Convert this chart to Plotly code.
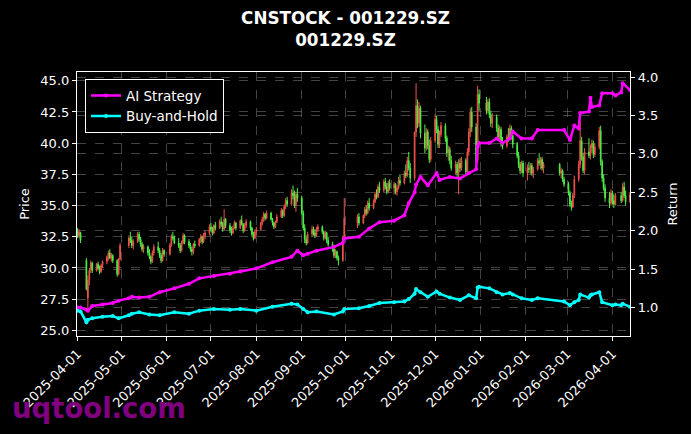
import pandas as pd
import plotly.graph_objects as go

# ---------------- data ----------------
holidays = ["2025-04-04", "2025-05-01", "2025-05-02", "2025-05-05", "2025-06-02",
            "2025-10-01", "2025-10-02", "2025-10-03", "2025-10-06", "2025-10-07", "2025-10-08",
            "2026-01-01", "2026-01-02", "2026-02-16", "2026-02-17", "2026-02-18",
            "2026-02-19", "2026-02-20", "2026-02-23", "2026-04-06"]

open_px = [
    33.0, 32.6, 32.8, 30.6, 27.6, 29.0, 29.9, 30.4, 29.8, 30.3, 30.0, 29.7, 30.2, 30.5, 30.9, 31.2, 30.8, 31.0, 30.6, 29.5, 30.7,
    31.8, 32.4, 32.2, 31.8, 32.1, 32.7, 32.3, 31.9, 31.5, 31.7, 31.2, 30.9, 30.5, 31.2, 31.7, 31.4, 31.0, 30.6, 31.4,
    31.1, 31.8, 32.5, 32.4, 32.0, 31.8, 31.4, 32.0, 32.6, 32.1, 31.8, 31.5, 31.3, 31.9, 31.8, 32.3, 32.5, 32.1, 32.6, 32.8,
    33.3, 33.1, 32.8, 33.4, 33.2, 33.7, 33.5, 33.1, 33.9, 33.4, 33.0, 32.8, 33.2, 33.6, 33.2, 33.8, 33.5, 33.0, 33.4, 33.7, 33.2, 32.7, 32.4,
    32.9, 33.1, 33.6, 33.9, 34.3, 34.0, 34.4, 33.9, 33.6, 33.3, 33.7, 34.1, 34.6, 34.2, 34.9, 35.4, 35.1, 36.0, 35.8, 35.0, 35.9,
    35.6, 34.4, 33.2, 32.3, 32.0, 32.7, 33.1, 32.8, 32.6, 33.1, 33.3, 32.9, 32.4, 32.8, 32.2, 31.9, 31.5, 31.0, 31.3, 30.8, 30.6, 32.4,
    33.6, 34.1, 33.6, 34.2, 34.7, 34.4, 35.2, 34.8, 35.3, 35.9, 35.7, 36.5, 36.2, 36.9, 36.5, 36.1, 36.8,
    36.4, 36.7, 36.1, 36.4, 37.0, 36.8, 37.6, 37.4, 38.6, 38.0, 37.2, 40.9, 43.0, 41.6, 42.8, 40.8, 39.6, 40.9, 39.8, 38.7,
    40.2, 41.9, 41.1, 39.9, 40.7, 41.4, 40.4, 39.2, 39.5, 38.6, 38.0, 38.3, 37.6, 38.4, 38.0, 38.6, 37.7, 39.3, 40.9, 42.5, 41.3, 38.6, 43.9,
    43.2, 42.6, 43.3, 42.3, 41.6, 42.1, 41.2, 40.5, 41.1, 40.0, 39.8, 40.5, 40.4, 41.2, 40.6, 39.9, 39.0, 38.3, 37.8, 38.4,
    37.6, 38.0, 37.9, 38.2, 37.6, 37.9, 38.6, 38.4, 38.7, 38.0, 38.3, 37.6, 37.8, 37.1,
    36.7, 36.0, 35.1, 34.9, 35.8, 37.1, 38.3, 40.2, 38.9, 37.8, 39.3, 39.0, 39.6, 40.0, 39.1, 39.7, 41.0, 38.5, 37.2, 36.4, 35.6, 35.2,
    36.0, 35.4, 35.1, 35.8, 35.4, 36.5, 35.8, 35.3,
]
high_px = [
    33.2, 33.1, 32.9, 30.8, 29.4, 30.0, 30.6, 30.5, 30.4, 30.5, 30.2, 30.3, 30.6, 31.0, 31.4, 31.5, 31.2, 31.1, 30.7, 30.8, 32.0,
    32.6, 32.9, 32.5, 32.3, 32.9, 32.9, 32.5, 32.1, 31.9, 31.8, 31.5, 31.0, 31.4, 31.9, 32.1, 31.6, 31.2, 31.6, 31.5,
    32.0, 32.7, 32.9, 32.6, 32.4, 32.0, 32.2, 32.8, 32.7, 32.3, 32.0, 31.7, 32.0, 32.2, 32.4, 32.7, 32.6, 32.8, 33.0, 33.5,
    33.6, 33.3, 33.5, 33.7, 33.9, 34.1, 33.7, 34.7, 34.0, 33.6, 33.3, 33.4, 33.8, 33.7, 33.9, 34.2, 33.6, 33.6, 33.9, 33.8, 33.3, 32.9, 33.1,
    33.3, 33.7, 34.1, 34.5, 34.4, 34.6, 34.5, 34.0, 33.7, 33.8, 34.3, 34.8, 34.7, 35.1, 35.6, 35.7, 36.3, 36.6, 36.2, 36.1, 36.4,
    35.8, 34.6, 33.5, 32.6, 32.9, 33.4, 33.3, 33.1, 33.3, 33.5, 33.4, 33.0, 33.0, 32.9, 32.5, 32.1, 31.7, 31.5, 31.4, 31.0, 32.6, 35.6,
    34.3, 34.4, 34.3, 34.9, 35.0, 35.4, 35.6, 35.5, 36.1, 36.3, 36.7, 36.9, 37.1, 37.2, 36.8, 37.0, 37.1,
    36.9, 36.8, 36.6, 37.3, 37.5, 37.8, 38.3, 38.9, 39.3, 38.4, 40.9, 44.8, 43.5, 43.3, 43.0, 41.5, 41.2, 41.1, 40.3, 40.5,
    42.3, 42.2, 41.4, 41.0, 41.7, 41.6, 40.6, 39.8, 39.7, 39.0, 38.6, 38.5, 38.7, 38.8, 38.9, 38.8, 39.6, 41.2, 42.8, 42.9, 41.6, 44.6, 44.3,
    43.7, 43.5, 43.6, 42.6, 42.4, 42.3, 41.5, 41.4, 41.3, 40.5, 40.7, 41.2, 41.5, 41.4, 40.9, 40.1, 39.3, 38.5, 38.6, 38.6,
    38.3, 38.5, 38.4, 38.4, 38.1, 38.8, 39.2, 38.9, 38.9, 38.5, 38.4, 38.0, 37.9, 37.3,
    36.9, 36.2, 35.4, 36.0, 37.4, 38.6, 41.8, 40.5, 39.2, 39.6, 40.4, 39.9, 40.3, 40.2, 40.0, 41.3, 41.4, 38.7, 37.5, 36.7, 36.1, 36.3,
    36.2, 35.9, 36.0, 36.1, 36.8, 36.9, 36.2, 36.1,
]
low_px = [
    32.4, 32.4, 32.0, 28.2, 26.5, 28.6, 29.6, 29.6, 29.7, 29.9, 29.5, 29.6, 30.0, 30.3, 30.6, 30.7, 30.5, 30.4, 29.3, 29.4, 30.6,
    31.6, 32.0, 31.6, 31.5, 32.0, 32.1, 31.7, 31.3, 31.2, 31.0, 30.7, 30.3, 30.4, 31.0, 31.2, 30.8, 30.4, 30.5, 30.9,
    31.0, 31.7, 32.2, 31.9, 31.6, 31.2, 31.3, 31.9, 31.9, 31.6, 31.3, 31.0, 31.1, 31.6, 31.7, 32.0, 31.9, 32.0, 32.3, 32.6,
    32.9, 32.6, 32.7, 33.0, 33.1, 33.3, 32.9, 33.0, 33.2, 32.8, 32.6, 32.7, 33.1, 33.0, 33.1, 33.4, 32.8, 32.9, 33.2, 33.0, 32.5, 32.2, 32.3,
    32.6, 33.0, 33.4, 33.7, 33.8, 33.9, 33.8, 33.4, 33.1, 33.2, 33.6, 34.0, 34.0, 34.1, 34.7, 34.9, 35.0, 35.5, 34.8, 34.5, 35.3,
    34.2, 33.0, 32.0, 31.8, 31.9, 32.5, 32.6, 32.4, 32.5, 32.9, 32.7, 32.2, 32.3, 32.0, 31.7, 31.3, 30.8, 30.8, 30.6, 30.2, 30.5, 32.2,
    33.2, 33.4, 33.5, 34.0, 34.2, 34.3, 34.6, 34.7, 35.2, 35.5, 35.6, 36.0, 36.1, 36.3, 35.9, 36.0, 36.2,
    35.9, 35.9, 35.8, 36.3, 36.6, 36.7, 37.2, 37.3, 37.8, 36.8, 37.0, 40.5, 41.2, 41.3, 40.4, 39.2, 39.4, 39.5, 38.4, 38.5,
    40.0, 40.8, 39.6, 39.6, 40.5, 40.1, 38.9, 38.6, 38.3, 37.8, 37.5, 37.3, 35.9, 37.7, 37.8, 37.4, 37.5, 39.0, 40.5, 40.9, 38.0, 38.4, 42.6,
    42.3, 42.4, 42.0, 41.3, 41.2, 40.9, 40.2, 40.3, 39.7, 39.5, 39.6, 40.1, 40.2, 40.3, 39.6, 38.8, 38.0, 37.5, 37.6, 37.3,
    37.0, 37.6, 37.5, 37.4, 37.2, 37.8, 38.2, 37.9, 37.8, 37.6, 37.4, 37.2, 36.9, 36.5,
    35.8, 34.9, 34.6, 34.8, 35.6, 36.9, 38.0, 38.6, 37.6, 37.5, 38.8, 38.7, 39.2, 38.8, 38.9, 39.5, 38.2, 36.9, 36.2, 35.3, 34.8, 35.0,
    35.1, 34.8, 35.0, 35.2, 35.3, 35.6, 35.0, 35.2,
]
close_px = [
    32.6, 32.9, 32.2, 28.3, 29.0, 29.8, 30.4, 29.8, 30.3, 30.0, 29.7, 30.2, 30.5, 30.9, 31.2, 30.8, 31.0, 30.6, 29.5, 30.7, 31.8,
    32.4, 32.2, 31.8, 32.1, 32.7, 32.3, 31.9, 31.5, 31.7, 31.2, 30.9, 30.5, 31.2, 31.7, 31.4, 31.0, 30.6, 31.4, 31.1,
    31.8, 32.5, 32.4, 32.0, 31.8, 31.4, 32.0, 32.6, 32.1, 31.8, 31.5, 31.3, 31.9, 31.8, 32.3, 32.5, 32.1, 32.6, 32.8, 33.3,
    33.1, 32.8, 33.4, 33.2, 33.7, 33.5, 33.1, 33.9, 33.4, 33.0, 32.8, 33.2, 33.6, 33.2, 33.8, 33.5, 33.0, 33.4, 33.7, 33.2, 32.7, 32.4, 32.9,
    33.1, 33.6, 33.9, 34.3, 34.0, 34.4, 33.9, 33.6, 33.3, 33.7, 34.1, 34.6, 34.2, 34.9, 35.4, 35.1, 36.0, 35.8, 35.0, 35.9, 35.6,
    34.4, 33.2, 32.3, 32.0, 32.7, 33.1, 32.8, 32.6, 33.1, 33.3, 32.9, 32.4, 32.8, 32.2, 31.9, 31.5, 31.0, 31.3, 30.8, 30.6, 32.4, 34.0,
    34.1, 33.6, 34.2, 34.7, 34.4, 35.2, 34.8, 35.3, 35.9, 35.7, 36.5, 36.2, 36.9, 36.5, 36.1, 36.8, 36.4,
    36.7, 36.1, 36.4, 37.0, 36.8, 37.6, 37.4, 38.6, 38.0, 37.2, 40.9, 43.0, 41.6, 42.8, 40.8, 39.6, 40.9, 39.8, 38.7, 40.2,
    41.9, 41.1, 39.9, 40.7, 41.4, 40.4, 39.2, 39.5, 38.6, 38.0, 38.3, 37.6, 38.4, 38.0, 38.6, 37.7, 39.3, 40.9, 42.5, 41.3, 38.6, 43.9, 43.2,
    42.6, 43.3, 42.3, 41.6, 42.1, 41.2, 40.5, 41.1, 40.0, 39.8, 40.5, 40.4, 41.2, 40.6, 39.9, 39.0, 38.3, 37.8, 38.4, 37.6,
    38.0, 37.9, 38.2, 37.6, 37.9, 38.6, 38.4, 38.7, 38.0, 38.3, 37.6, 37.8, 37.1, 36.7,
    36.0, 35.1, 34.9, 35.8, 37.1, 38.3, 40.2, 38.9, 37.8, 39.3, 39.0, 39.6, 40.0, 39.1, 39.7, 41.0, 38.5, 37.2, 36.4, 35.6, 35.2, 36.0,
    35.4, 35.1, 35.8, 35.4, 36.5, 35.8, 35.3, 35.9,
]

line_dates = ["2025-04-01", "2025-04-03", "2025-04-07", "2025-04-08", "2025-04-11", "2025-04-18", "2025-04-25",
              "2025-04-29", "2025-05-06", "2025-05-08", "2025-05-13", "2025-05-20", "2025-05-27", "2025-06-06",
              "2025-06-16", "2025-06-23", "2025-07-03", "2025-07-14", "2025-07-21", "2025-08-01", "2025-08-12",
              "2025-08-25", "2025-08-29", "2025-09-02", "2025-09-05", "2025-09-11", "2025-09-23", "2025-09-29",
              "2025-09-30", "2025-10-10", "2025-10-17", "2025-10-24", "2025-11-03", "2025-11-10", "2025-11-13",
              "2025-11-17", "2025-11-18", "2025-11-21", "2025-11-26", "2025-12-02", "2025-12-04", "2025-12-11",
              "2025-12-18", "2025-12-24", "2025-12-29", "2025-12-30", "2025-12-31", "2026-01-07", "2026-01-12",
              "2026-01-16", "2026-01-21", "2026-01-23", "2026-01-29", "2026-02-05", "2026-02-09", "2026-02-27",
              "2026-03-03", "2026-03-06", "2026-03-09", "2026-03-10", "2026-03-16", "2026-03-17", "2026-03-18",
              "2026-03-23", "2026-03-25", "2026-04-01", "2026-04-03", "2026-04-07", "2026-04-08", "2026-04-13"]
ai_ret = [1.00, 1.00, 0.97, 0.96, 1.02, 1.04, 1.06, 1.09, 1.12, 1.14,
          1.13, 1.14, 1.20, 1.25, 1.31, 1.38, 1.41, 1.44, 1.47, 1.51,
          1.59, 1.66, 1.74, 1.68, 1.70, 1.74, 1.79, 1.84, 1.90, 1.92,
          2.03, 2.11, 2.13, 2.20, 2.36, 2.50, 2.60, 2.70, 2.59, 2.75,
          2.66, 2.70, 2.68, 2.75, 2.80, 3.10, 3.14, 3.14, 3.20, 3.14,
          3.20, 3.29, 3.20, 3.20, 3.31, 3.31, 3.18, 3.37, 3.33, 3.53,
          3.55, 3.73, 3.61, 3.63, 3.79, 3.79, 3.76, 3.80, 3.92, 3.83]
bh_ret = [0.96, 0.95, 0.81, 0.84, 0.86, 0.88, 0.89, 0.86, 0.90, 0.92,
          0.94, 0.91, 0.90, 0.94, 0.92, 0.96, 0.98, 0.97, 0.98, 0.96,
          1.01, 1.05, 1.04, 0.98, 0.94, 0.95, 0.91, 0.95, 0.98, 0.99,
          1.02, 1.06, 1.07, 1.08, 1.11, 1.18, 1.24, 1.20, 1.14, 1.21,
          1.18, 1.13, 1.10, 1.16, 1.12, 1.26, 1.27, 1.25, 1.20, 1.17,
          1.19, 1.17, 1.12, 1.10, 1.12, 1.08, 1.03, 1.07, 1.10, 1.17,
          1.13, 1.16, 1.17, 1.20, 1.07, 1.03, 1.04, 1.03, 1.05, 1.01]

# ---------------- figure ----------------
dates = pd.bdate_range("2025-04-01", "2026-04-13")
dates = dates[~dates.isin(pd.to_datetime(holidays))]

UP = "#f0524a"
DOWN = "#4ef046"
FONT = "DejaVu Sans"
GRID = "rgba(120,120,120,0.55)"

fig = go.Figure()
fig.add_trace(go.Candlestick(
    x=dates, open=open_px, high=high_px, low=low_px, close=close_px,
    increasing=dict(line=dict(color=UP, width=1), fillcolor=UP),
    decreasing=dict(line=dict(color=DOWN, width=1), fillcolor=DOWN),
    whiskerwidth=0, showlegend=False, name="price"))
fig.add_trace(go.Scatter(
    x=line_dates, y=ai_ret, yaxis="y2", mode="lines+markers", name="AI Strategy",
    line=dict(color="#ff00ff", width=2.5), marker=dict(size=4, color="#ff00ff")))
fig.add_trace(go.Scatter(
    x=line_dates, y=bh_ret, yaxis="y2", mode="lines+markers", name="Buy-and-Hold",
    line=dict(color="#00ffff", width=2.5), marker=dict(size=4, color="#00ffff")))

axis_common = dict(showline=True, linecolor="white", linewidth=1.2, ticks="outside",
                   tickcolor="white", ticklen=4, tickfont=dict(color="white", size=13, family=FONT),
                   showgrid=True, gridcolor=GRID, griddash="dash", gridwidth=0.6, zeroline=False,
                   automargin=False)

fig.update_layout(
    width=691, height=434,
    paper_bgcolor="black", plot_bgcolor="black",
    margin=dict(l=77, r=61, t=72, b=98),
    font=dict(family=FONT, color="white", size=13),
    title=dict(text="<b>CNSTOCK - 001229.SZ<br>001229.SZ</b>", x=0.5, xanchor="center",
               y=1 - 24 / 434, yanchor="middle", yref="container",
               font=dict(size=16.8, color="white", family=FONT)),
    xaxis=dict(type="date", range=["2025-03-31 14:00", "2026-04-13"],
               tick0="2025-04-01", dtick="M1", tickformat="%Y-%m-%d", tickangle=-45,
               mirror=True, rangeslider=dict(visible=False), **axis_common),
    yaxis=dict(range=[24.55, 45.7], dtick=2.5, tickformat=".1f",
               title=dict(text="Price", font=dict(size=13, color="white", family=FONT), standoff=7),
               **axis_common),
    yaxis2=dict(range=[0.63, 4.065], dtick=0.5, tickformat=".1f", overlaying="y", side="right",
                title=dict(text="Return", font=dict(size=13, color="white", family=FONT), standoff=10),
                **axis_common),
    legend=dict(x=0.0145, y=0.973, xanchor="left", yanchor="top", bgcolor="black",
                bordercolor="white", borderwidth=1, font=dict(size=13.5, color="white", family=FONT)),
    showlegend=True,
    annotations=[dict(text="uqtool.com", xref="paper", yref="paper", x=-0.121, y=-0.273,
                      xanchor="left", yanchor="middle", showarrow=False,
                      font=dict(size=27.5, color="#800080", family=FONT, weight="bold"))],
)

fig.write_html("out.html", config={"displayModeBar": False},
               post_script="document.body.style.margin='0';document.body.style.background='black';")
